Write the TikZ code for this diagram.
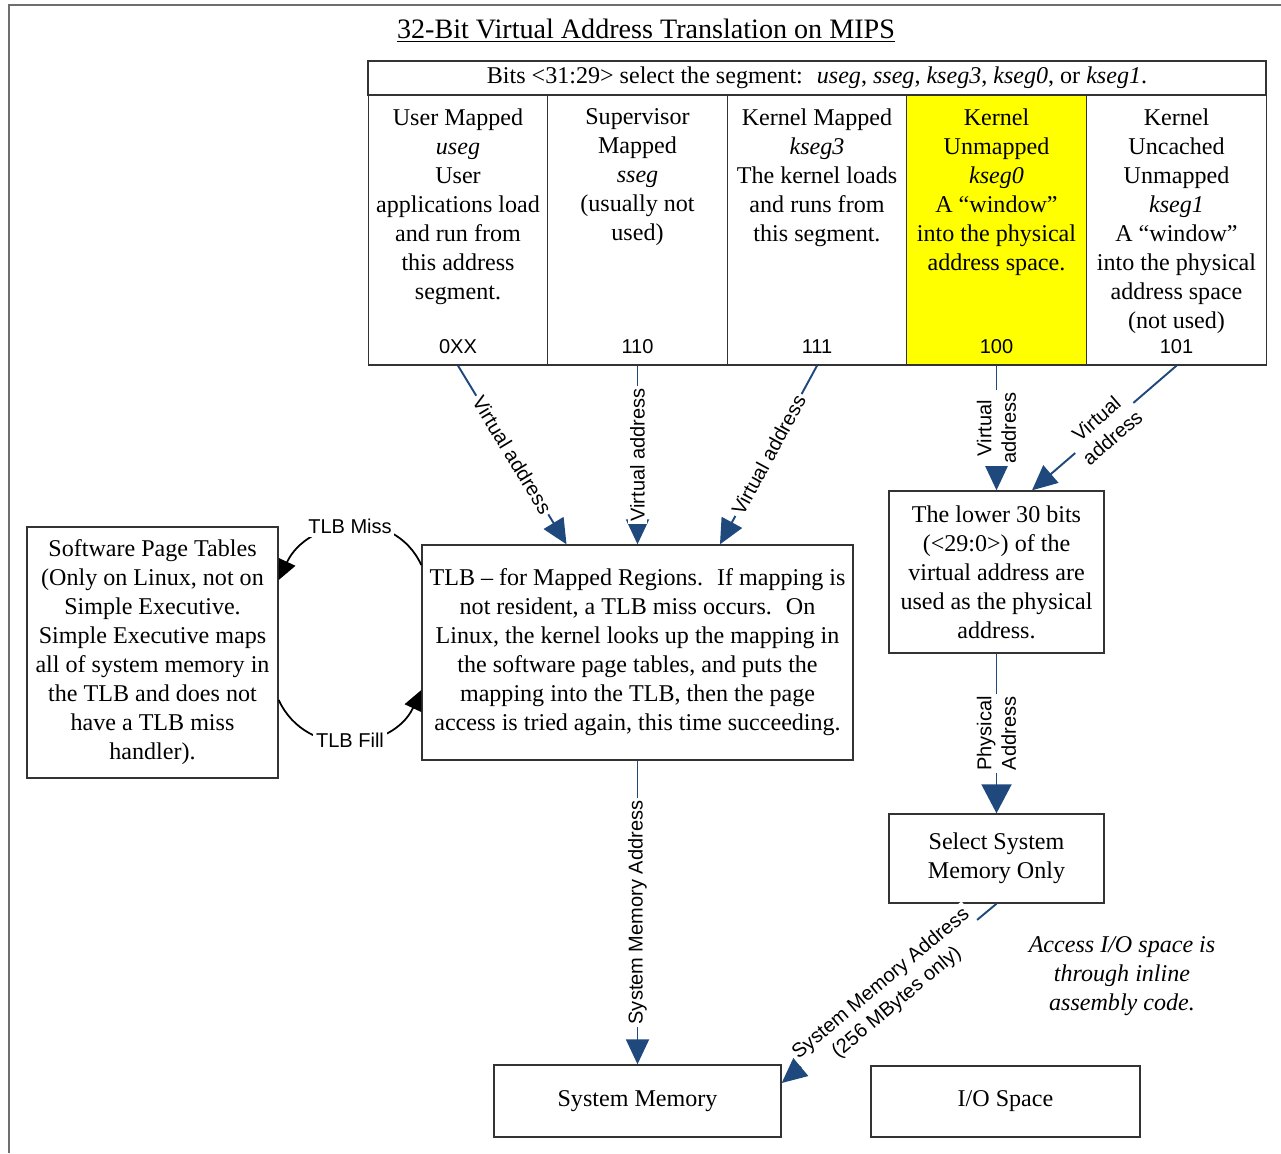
\documentclass[tikz,border=0pt]{standalone}
\usepackage{fontspec}
\setmainfont{Liberation Serif}
\setsansfont{Liberation Sans}
\usetikzlibrary{arrows.meta, positioning}
\definecolor{LinkBlue}{HTML}{1F497D}
\definecolor{SegYellow}{HTML}{FFFF00}
\definecolor{FrameGray}{HTML}{6E6E6E}

\newcommand{\bodyfont}{\fontsize{13.7}{16.5}\selectfont}
\newcommand{\labfont}{\sffamily\fontsize{11.4}{14}\selectfont}

\tikzset{
  plainbox/.style={draw=black!80, line width=0.8pt, align=center, font=\bodyfont},
  segcell/.style={plainbox, minimum width=3.59cm, minimum height=5.4cm},
  segtext/.style={align=center, font=\bodyfont, inner sep=0pt, anchor=north},
  segcode/.style={font=\labfont},
  vlink/.style={draw=LinkBlue, line width=1.1pt, -{Triangle[length=0.5cm,width=0.46cm]}},
  vlabel/.style={font=\labfont, fill=white, inner sep=1.5pt, align=center},
  tlbloop/.style={draw=black, line width=1pt, looseness=1.2, -{Triangle[length=0.4cm,width=0.36cm]}}
}

\begin{document}
\begin{tikzpicture}[x=0.02cm, y=-0.02cm]
\useasboundingbox (0,0) rectangle (1281,1153);
% page frame
\draw[FrameGray, line width=1.2pt] (1281,5) -- (9,5) -- (9,1153);

\node[font=\fontsize{16}{19}\selectfont] (title) at (646,31) {\underline{32-Bit Virtual Address Translation on MIPS}};

% segment table
\node[plainbox, minimum width=17.96cm, minimum height=0.68cm] (bits) at (817,78)
  {Bits <31:29> select the segment:~ \textit{useg}, \textit{sseg}, \textit{kseg3}, \textit{kseg0}, or \textit{kseg1}.};
\node[segcell] (useg) at (458,230) {};
\node[segcell] (sseg) at (637.5,230) {};
\node[segcell] (kseg3) at (817,230) {};
\node[segcell, fill=SegYellow] (kseg0) at (996.5,230) {};
\node[segcell] (kseg1) at (1176.5,230) {};

\node[segtext] (usegtxt) at ([yshift=-0.28cm]useg.north)
  {User Mapped\\\textit{useg}\\User\\applications load\\and run from\\this address\\segment.};
\node[segtext] (ssegtxt) at ([yshift=-0.28cm]sseg.north)
  {Supervisor\\Mapped\\\textit{sseg}\\(usually not\\used)};
\node[segtext] (kseg3txt) at ([yshift=-0.28cm]kseg3.north)
  {Kernel Mapped\\\textit{kseg3}\\The kernel loads\\and runs from\\this segment.};
\node[segtext] (kseg0txt) at ([yshift=-0.28cm]kseg0.north)
  {Kernel\\Unmapped\\\textit{kseg0}\\A ``window''\\into the physical\\address space.};
\node[segtext] (kseg1txt) at ([yshift=-0.28cm]kseg1.north)
  {Kernel\\Uncached\\Unmapped\\\textit{kseg1}\\A ``window''\\into the physical\\address space\\(not used)};

\node[segcode] (usegbits) at ([yshift=0.38cm]useg.south) {0XX};
\node[segcode] (ssegbits) at ([yshift=0.38cm]sseg.south) {110};
\node[segcode] (kseg3bits) at ([yshift=0.38cm]kseg3.south) {111};
\node[segcode] (kseg0bits) at ([yshift=0.38cm]kseg0.south) {100};
\node[segcode] (kseg1bits) at ([yshift=0.38cm]kseg1.south) {101};

% translation boxes
\node[plainbox, minimum width=8.62cm, minimum height=4.3cm] (tlb) at (637.5,652.5)
  {TLB -- for Mapped Regions.~ If mapping is\\not resident, a TLB miss occurs.~ On\\Linux, the kernel looks up the mapping in\\the software page tables, and puts the\\mapping into the TLB, then the page\\access is tried again, this time succeeding.};
\node[plainbox, minimum width=5.02cm, minimum height=5.02cm] (ptab) at (152.5,652.5)
  {Software Page Tables\\(Only on Linux, not on\\Simple Executive.\\Simple Executive maps\\all of system memory in\\the TLB and does not\\have a TLB miss\\handler).};
\node[plainbox, minimum width=4.3cm, minimum height=3.24cm] (lower) at (996.5,572)
  {The lower 30 bits\\(<29:0>) of the\\virtual address are\\used as the physical\\address.};
\node[plainbox, minimum width=4.3cm, minimum height=1.78cm] (select) at (996.5,858.5)
  {Select System\\Memory Only};
\node[plainbox, minimum width=5.74cm, minimum height=1.44cm] (sysmem) at (637.5,1101) {System Memory};
\node[plainbox, minimum width=5.38cm, minimum height=1.42cm] (iospace) at (1005.5,1101.5) {I/O Space};
\node[align=center, font=\bodyfont\itshape] (ionote) at (1122,976)
  {Access I/O space is\\through inline\\assembly code.};

% virtual addresses into the TLB
\draw[vlink] (useg.south) -- node[vlabel, sloped] {Virtual address} ([xshift=-1.42cm]tlb.north);
\draw[vlink] (sseg.south) -- node[vlabel, rotate=90] {Virtual address} (tlb.north);
\draw[vlink] (kseg3.south) -- node[vlabel, sloped] {Virtual address} ([xshift=1.65cm]tlb.north);

% unmapped segments
\draw[vlink] (kseg0.south) -- node[vlabel, rotate=90] {Virtual\\address} (lower.north);
\draw[vlink] (kseg1.south) -- node[vlabel, sloped] {Virtual\\address} ([xshift=0.71cm]lower.north);
\draw[vlink, -{Triangle[length=0.58cm,width=0.6cm]}] (lower.south) -- node[vlabel, rotate=90] {Physical\\Address} (select.north);

% down to memory
\draw[vlink] (tlb.south) -- node[vlabel, rotate=90] {System Memory Address} (sysmem.north);
\draw[vlink] (select.south) -- node[vlabel, sloped] {System Memory Address\\(256 MBytes only)} ([yshift=0.36cm]sysmem.east);

% miss / fill loop
\draw[tlbloop] ([yshift=1.75cm]tlb.west) to[out=115, in=65] node[vlabel] {TLB Miss} ([yshift=1.45cm]ptab.east);
\draw[tlbloop] ([yshift=-0.95cm]ptab.east) to[out=-65, in=-115] node[vlabel] {TLB Fill} ([yshift=-0.75cm]tlb.west);
\end{tikzpicture}
\end{document}
